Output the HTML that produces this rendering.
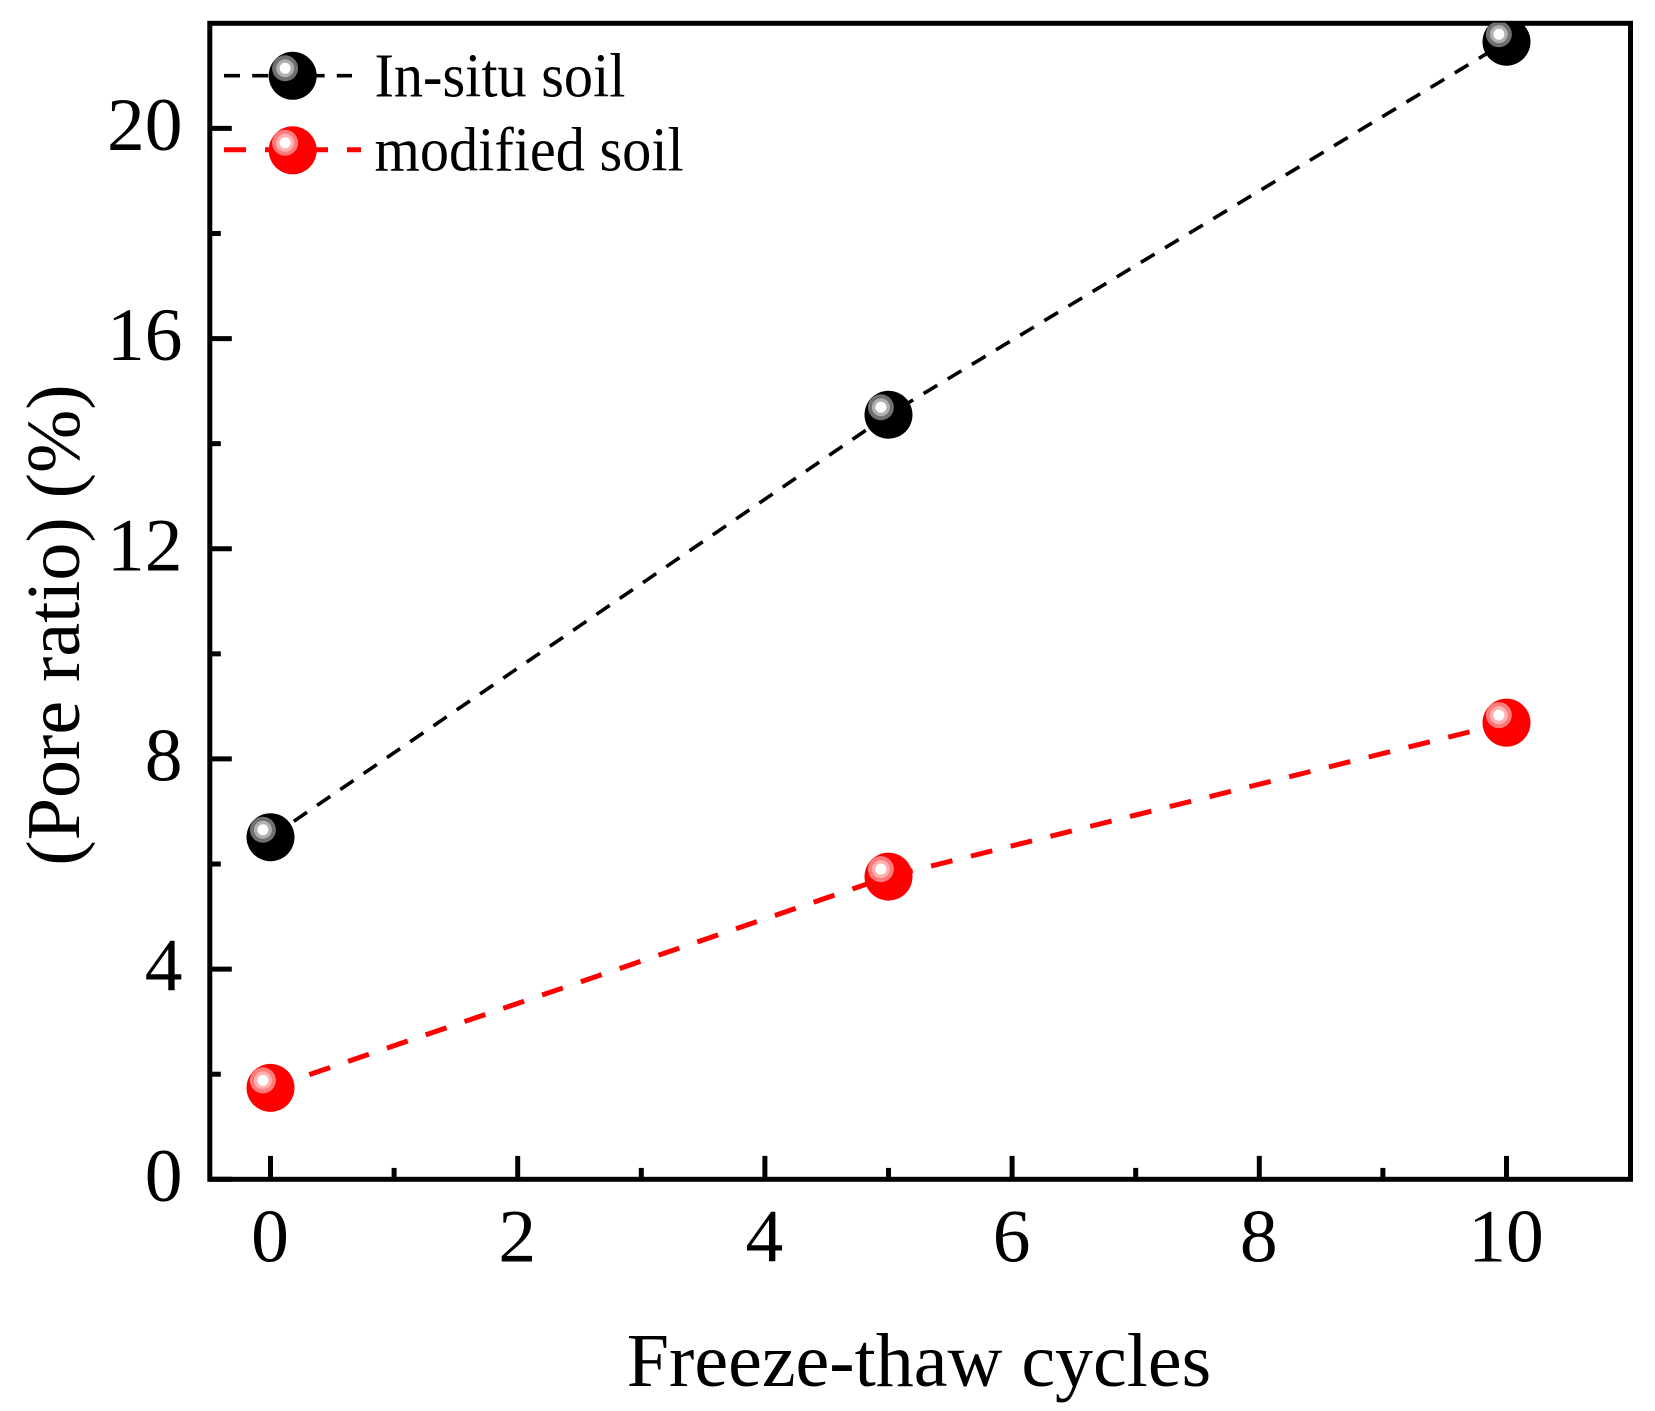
<!DOCTYPE html>
<html>
<head>
<meta charset="utf-8">
<style>
html,body{margin:0;padding:0;background:#fff;width:1655px;height:1411px;overflow:hidden}
svg{display:block}
text{font-family:"Liberation Serif",serif;fill:#000}
</style>
</head>
<body>
<svg id="chart" width="1655" height="1411" viewBox="0 0 1655 1411" xmlns="http://www.w3.org/2000/svg">
<defs><clipPath id="plot-clip"><rect x="209.8" y="22.6" width="1420.7" height="1156.7"/></clipPath></defs>
<rect width="1655" height="1411" fill="#fff"/>
<text x="919" y="1386" font-size="76" text-anchor="middle">Freeze-thaw cycles</text>
<text transform="translate(79,625) rotate(-90)" font-size="76" text-anchor="middle">(Pore ratio) (%)</text>
<g id="axes"></g>
<g id="series" clip-path="url(#plot-clip)"></g>
<g id="legend"></g>
</svg>
<script>
const cycles = [0, 5, 10];
const inSituSoil = [6.51, 14.55, 21.65];
const modifiedSoil = [1.74, 5.76, 8.69];
const xMajorTicks = [0, 2, 4, 6, 8, 10];
const xMinorTicks = [1, 3, 5, 7, 9];
const yMajorTicks = [0, 4, 8, 12, 16, 20];
const yMinorTicks = [2, 6, 10, 14, 18];
const legendLabels = ['In-situ soil', 'modified soil'];

const NS = 'http://www.w3.org/2000/svg';
const L = 209.8, R = 1630.5, T = 23.3, B = 1179.3;
const AXIS_W = 5;
const xScale = v => 270.5 + v * 123.6;
const yScale = v => B - v / 22 * (B - T);

function make(parent, tag, attrs, txt) {
  const el = document.createElementNS(NS, tag);
  for (const k in attrs) el.setAttribute(k, attrs[k]);
  if (txt !== undefined) el.textContent = txt;
  parent.appendChild(el);
  return el;
}

const axes = document.getElementById('axes');
const frame = make(axes, 'rect', {x: L, y: T, width: R - L, height: B - T, fill: 'none', stroke: '#000', 'stroke-width': AXIS_W});



xMajorTicks.forEach(v => {
  const t = make(axes, 'line', {x1: xScale(v), x2: xScale(v), y1: B, y2: B - 23.4, stroke: '#000', 'stroke-width': AXIS_W});
  
  
  const l = make(axes, 'text', {x: xScale(v) - 0.5, y: 1261.7, 'font-size': 75.5, 'text-anchor': 'middle'}, String(v));
  
  
});
xMinorTicks.forEach(v => {
  const t = make(axes, 'line', {x1: xScale(v), x2: xScale(v), y1: B, y2: B - 11.4, stroke: '#000', 'stroke-width': AXIS_W});
  
  
});
yMajorTicks.forEach(v => {
  const t = make(axes, 'line', {x1: L, x2: L + 22, y1: yScale(v), y2: yScale(v), stroke: '#000', 'stroke-width': AXIS_W});
  
  
  const l = make(axes, 'text', {x: 182.5, y: yScale(v) + 21.5, 'font-size': 75.5, 'text-anchor': 'end'}, String(v));
  
  
});
yMinorTicks.forEach(v => {
  const t = make(axes, 'line', {x1: L, x2: L + 11, y1: yScale(v), y2: yScale(v), stroke: '#000', 'stroke-width': AXIS_W});
  
  
});

function ball(parent, cx, cy, base, ring1, ring2, name) {
  const g = make(parent, 'g', {});
  
  
  make(g, 'circle', {cx: cx, cy: cy, r: 24, fill: base});
  make(g, 'circle', {cx: cx - 7.6, cy: cy - 7.5, r: 13, fill: ring1});
  make(g, 'circle', {cx: cx - 7.6, cy: cy - 7.5, r: 9, fill: ring2});
  make(g, 'circle', {cx: cx - 7.6, cy: cy - 7.5, r: 5.5, fill: '#fff'});
}

const seriesGroup = document.getElementById('series');
const blackLine = make(seriesGroup, 'polyline', {
  points: cycles.map((c, i) => xScale(c) + ',' + yScale(inSituSoil[i])).join(' '),
  fill: 'none', stroke: '#000', 'stroke-width': 3.6, 'stroke-dasharray': '16 12.2'
});


const redLine = make(seriesGroup, 'polyline', {
  points: cycles.map((c, i) => xScale(c) + ',' + yScale(modifiedSoil[i])).join(' '),
  fill: 'none', stroke: '#f00', 'stroke-width': 5, 'stroke-dasharray': '22 19'
});


cycles.forEach((c, i) => {
  ball(seriesGroup, xScale(c), yScale(inSituSoil[i]), '#000', '#707070', '#b0b0b0', 'in-situ-soil-point');
  ball(seriesGroup, xScale(c), yScale(modifiedSoil[i]), '#f00', '#ff7a7a', '#ffb0b0', 'modified-soil-point');
});

const legend = document.getElementById('legend');
const legendBlack = make(legend, 'line', {x1: 224, x2: 352, y1: 75.7, y2: 75.7, stroke: '#000', 'stroke-width': 3.6, 'stroke-dasharray': '16 12.2'});


const legendRed = make(legend, 'line', {x1: 224, x2: 361, y1: 149.7, y2: 149.7, stroke: '#f00', 'stroke-width': 5, 'stroke-dasharray': '22 19'});


ball(legend, 292.7, 75.8, '#000', '#707070', '#b0b0b0', 'legend-marker-in-situ-soil');
ball(legend, 292.7, 150.3, '#f00', '#ff7a7a', '#ffb0b0', 'legend-marker-modified-soil');
const legendText1 = make(legend, 'text', {transform: 'translate(374.5,96.5) scale(1,1.07)', 'font-size': 58.3}, legendLabels[0]);


const legendText2 = make(legend, 'text', {transform: 'translate(374.5,170.5) scale(1,1.07)', 'font-size': 58.3}, legendLabels[1]);


</script>
</body>
</html>
